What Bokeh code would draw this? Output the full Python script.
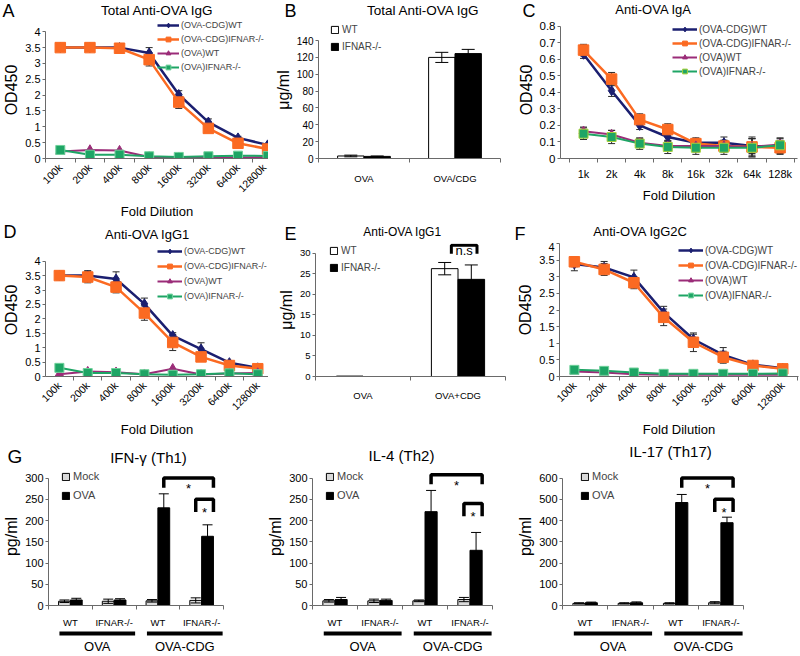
import math
from bokeh.plotting import figure
from bokeh.models import (ColumnDataSource, FixedTicker, Range1d, Legend, LegendItem,
                          Whisker, TeeHead, NumeralTickFormatter)
from bokeh.layouts import row, column
from bokeh.embed import file_html
from bokeh.resources import INLINE
from bokeh.core.properties import value

# ---------------- data ----------------
dil_labels = ["100k", "200k", "400k", "800k", "1600k", "3200k", "6400k", "12800k"]
iga_labels = ["1k", "2k", "4k", "8k", "16k", "32k", "64k", "128k"]
series_names = ["(OVA-CDG)WT", "(OVA-CDG)IFNAR-/-", "(OVA)WT", "(OVA)IFNAR-/-"]

# A: Total anti-OVA IgG (OD450)
igg_cdg_wt = [3.50, 3.50, 3.50, 3.33, 2.02, 1.15, 0.65, 0.43]
igg_cdg_wt_err = [0.04, 0.04, 0.05, 0.17, 0.12, 0.10, 0.05, 0.04]
igg_cdg_ko = [3.50, 3.50, 3.48, 3.12, 1.78, 0.95, 0.48, 0.30]
igg_cdg_ko_err = [0.05, 0.04, 0.05, 0.20, 0.20, 0.08, 0.05, 0.04]
igg_ova_wt = [0.22, 0.27, 0.25, 0.05, 0.04, 0.04, 0.03, 0.05]
igg_ova_ko = [0.27, 0.12, 0.12, 0.07, 0.05, 0.07, 0.09, 0.08]

# C: anti-OVA IgA (OD450)
iga_cdg_wt = [0.63, 0.41, 0.20, 0.13, 0.095, 0.095, 0.075, 0.07]
iga_cdg_wt_err = [0.025, 0.035, 0.025, 0.025, 0.03, 0.035, 0.045, 0.04]
iga_cdg_ko = [0.655, 0.48, 0.235, 0.175, 0.09, 0.075, 0.07, 0.065]
iga_cdg_ko_err = [0.035, 0.04, 0.035, 0.035, 0.03, 0.035, 0.05, 0.04]
iga_ova_wt = [0.165, 0.145, 0.095, 0.075, 0.075, 0.075, 0.07, 0.085]
iga_ova_wt_err = [0.025, 0.025, 0.025, 0.03, 0.035, 0.035, 0.06, 0.035]
iga_ova_ko = [0.15, 0.13, 0.09, 0.07, 0.065, 0.065, 0.065, 0.08]
iga_ova_ko_err = [0.035, 0.04, 0.035, 0.04, 0.04, 0.04, 0.055, 0.045]

# D: anti-OVA IgG1 (OD450)
igg1_cdg_wt = [3.50, 3.50, 3.38, 2.52, 1.42, 0.95, 0.48, 0.30]
igg1_cdg_wt_err = [0.15, 0.17, 0.25, 0.20, 0.10, 0.22, 0.05, 0.05]
igg1_cdg_ko = [3.50, 3.45, 3.10, 2.20, 1.18, 0.68, 0.38, 0.27]
igg1_cdg_ko_err = [0.13, 0.20, 0.20, 0.25, 0.28, 0.08, 0.05, 0.05]
igg1_ova_wt = [0.08, 0.17, 0.15, 0.08, 0.27, 0.07, 0.10, 0.12]
igg1_ova_ko = [0.30, 0.12, 0.12, 0.08, 0.06, 0.08, 0.11, 0.08]

# F: anti-OVA IgG2C (OD450)
igg2c_cdg_wt = [3.38, 3.28, 2.98, 1.93, 1.12, 0.65, 0.35, 0.25]
igg2c_cdg_wt_err = [0.20, 0.18, 0.22, 0.18, 0.15, 0.22, 0.05, 0.05]
igg2c_cdg_ko = [3.45, 3.22, 2.82, 1.78, 1.03, 0.58, 0.33, 0.23]
igg2c_cdg_ko_err = [0.15, 0.18, 0.18, 0.25, 0.28, 0.18, 0.05, 0.05]
igg2c_ova_wt = [0.15, 0.12, 0.07, 0.05, 0.05, 0.05, 0.05, 0.05]
igg2c_ova_ko = [0.20, 0.17, 0.12, 0.08, 0.08, 0.08, 0.08, 0.09]

# B: total anti-OVA IgG (ug/ml)
b_groups = ["OVA", "OVA/CDG"]
b_wt = [3.0, 120.0]
b_wt_err = [1.0, 6.0]
b_ko = [2.5, 124.5]
b_ko_err = [0.5, 5.0]

# E: anti-OVA IgG1 (ug/ml)
e_groups = ["OVA", "OVA+CDG"]
e_wt = [0.1, 26.2]
e_wt_err = [0.0, 1.5]
e_ko = [0.0, 23.6]
e_ko_err = [0.0, 3.5]

# G: cytokines (pg/ml)
g_sub = ["WT", "IFNAR-/-", "WT", "IFNAR-/-"]
g_groups = ["OVA", "OVA-CDG"]
ifng_mock = [10, 10, 11, 12]
ifng_mock_err = [3, 5, 3, 6]
ifng_ova = [13, 13, 230, 163]
ifng_ova_err = [4, 3, 33, 27]
ifng_sig = [300, 250]
il4_mock = [11, 11, 11, 14]
il4_mock_err = [3, 4, 2, 5]
il4_ova = [14, 12, 221, 130]
il4_ova_err = [5, 3, 50, 42]
il4_sig = [308, 240]
il17_mock = [10, 10, 10, 13]
il17_mock_err = [3, 3, 3, 5]
il17_ova = [13, 13, 485, 390]
il17_ova_err = [3, 4, 38, 26]
il17_sig = [600, 500]

panel_letters = ["A", "B", "C", "D", "E", "F", "G"]
panel_titles = ["Total Anti-OVA IgG", "Total Anti-OVA IgG", "Anti-OVA IgA",
                "Anti-OVA IgG1", "Anti-OVA IgG1", "Anti-OVA IgG2C",
                "IFN-\u03b3 (Th1)", "IL-4 (Th2)", "IL-17 (Th17)"]

# ---------------- style ----------------
FONT = "Liberation Sans"
NAVY = "#1b1f70"
ORANGE = "#fb6a22"
PURPLE = "#9b2c78"
GREEN = "#1ea565"
AXC = "#6a6a6a"
ERRC = "#2b2b2b"
MOCK = "#d9d9d9"
TOTAL_W = 800


def base(w, h, xr, yr, bl, br, bt, bb):
    p = figure(width=w, height=h, x_range=xr, y_range=yr, output_backend="svg",
               toolbar_location=None, min_border_left=bl, min_border_right=br,
               min_border_top=bt, min_border_bottom=bb)
    p.grid.visible = False
    p.outline_line_color = None
    for ax in p.axis:
        ax.axis_line_color = AXC
        ax.major_tick_line_color = AXC
        ax.minor_tick_line_color = AXC
        ax.major_tick_in = 0
        ax.major_tick_out = 3
        ax.minor_tick_in = 0
        ax.minor_tick_out = 0
        ax.major_label_text_font = FONT
        ax.major_label_text_color = "black"
        ax.axis_label_text_font = FONT
        ax.axis_label_text_font_style = "normal"
        ax.axis_label_text_color = "black"
        ax.major_label_standoff = 2
        ax.axis_label_standoff = 2
    return p


def header(h, entries):
    """Strip holding panel letters and panel titles; entries: (text, x, y, size, align)."""
    p = figure(width=TOTAL_W, height=h, x_range=Range1d(0, TOTAL_W), y_range=Range1d(h, 0),
               output_backend="svg", toolbar_location=None, min_border=0)
    p.axis.visible = False
    p.grid.visible = False
    p.outline_line_color = None
    for txt, x, y, size, align in entries:
        p.text(x=[x], y=[y], text=[txt], text_font=value(FONT), text_font_size=size,
               text_align=align, text_baseline="middle", text_color="black")
    return p


def cat_xaxis(p, labels, fs, standoff, orient=None):
    n = len(labels)
    ax = p.xaxis[0]
    ax.ticker = FixedTicker(ticks=list(range(n)), minor_ticks=[i - 0.5 for i in range(n + 1)])
    ax.major_label_overrides = {i: lab for i, lab in enumerate(labels)}
    ax.major_tick_out = 0
    ax.minor_tick_out = 4
    ax.major_label_text_font_size = fs
    ax.major_label_standoff = standoff
    if orient is not None:
        ax.major_label_orientation = orient


def val_yaxis(p, top, step, fs, label, label_fs):
    n = int(round(top / step))
    ax = p.yaxis[0]
    ax.ticker = FixedTicker(ticks=[round(i * step, 4) for i in range(n + 1)])
    ax.formatter = NumeralTickFormatter(format="0.[0]")
    ax.major_label_text_font_size = fs
    ax.axis_label = label
    ax.axis_label_text_font_size = label_fs
    ax.bounds = (0, top)


def legend(p, items, loc, fs, gw, gh, spacing, standoff=3):
    leg = Legend(items=items, location=loc, background_fill_alpha=0, border_line_alpha=0,
                 label_text_font=FONT, label_text_font_size=fs, glyph_width=gw,
                 glyph_height=gh, label_height=gh, spacing=spacing, padding=0, margin=0,
                 label_standoff=standoff)
    p.add_layout(leg)


STYLES = [  # color, marker, size, line width
    (NAVY, "diamond", 10, 2.5),
    (ORANGE, "square", 10.5, 2.5),
    (PURPLE, "triangle", 9, 2.0),
    (GREEN, "square", 9, 2.0),
]


def line_panel(w, h, bl, br, bt, bb, xr, ytop, yend, ystep, xlabels, orient, xfs, yfs,
               values, errors, leg_loc, leg_sp, green_edge, leg_fs="10px", leg_gw=25):
    xs = list(range(len(xlabels)))
    p = base(w, h, Range1d(*xr), Range1d(0, yend), bl, br, bt, bb)
    cat_xaxis(p, xlabels, xfs, 3 if orient else 5, orient)
    p.xaxis[0].axis_label = "Fold Dilution"
    p.xaxis[0].axis_label_text_font_size = "13px"
    p.xaxis[0].axis_label_standoff = 3 if orient else 5
    val_yaxis(p, ytop, ystep, yfs, "OD450", "16px")
    items = []
    for name, vals, errs, st in zip(series_names, values, errors, STYLES):
        color, marker, size, lw = st
        src = ColumnDataSource(dict(x=xs, y=vals))
        if errs is not None:
            esrc = ColumnDataSource(dict(x=xs, lo=[v - e for v, e in zip(vals, errs)],
                                         hi=[v + e for v, e in zip(vals, errs)]))
            p.add_layout(Whisker(source=esrc, base="x", upper="hi", lower="lo",
                                 dimension="height", line_color=ERRC, line_width=1,
                                 level="underlay",
                                 upper_head=TeeHead(size=7, line_color=ERRC, line_width=1),
                                 lower_head=TeeHead(size=7, line_color=ERRC, line_width=1)))
        rl = p.line("x", "y", source=src, line_color=color, line_width=lw)
        edge = green_edge if color == GREEN else color
        rs = p.scatter("x", "y", source=src, marker=marker, size=size, fill_color=color,
                       line_color=edge, line_width=1)
        items.append(LegendItem(label=value(name), renderers=[rl, rs]))
    legend(p, items, leg_loc, leg_fs, leg_gw, 12, leg_sp, 2)
    return p


def bar2_panel(w, h, bl, br, bt, bb, groups, wt, wt_err, ko, ko_err, ytop, yend, ystep,
               bw, yfs, xfs, xstand, leg_loc):
    p = base(w, h, Range1d(-0.5, len(groups) - 0.5), Range1d(0, yend), bl, br, bt, bb)
    cat_xaxis(p, groups, xfs, xstand)
    val_yaxis(p, ytop, ystep, yfs, "\u03bcg/ml", "16px")
    xs = list(range(len(groups)))
    x_wt = [x - bw / 2 for x in xs]
    x_ko = [x + bw / 2 for x in xs]
    r_wt = p.vbar(x=x_wt, top=wt, width=bw, fill_color="white", line_color="black", line_width=1)
    r_ko = p.vbar(x=x_ko, top=ko, width=bw, fill_color="black", line_color="black", line_width=1)
    for xx, vv, ee in ((x_wt, wt, wt_err), (x_ko, ko, ko_err)):
        keep = [i for i, e in enumerate(ee) if e > 0]
        esrc = ColumnDataSource(dict(x=[xx[i] for i in keep],
                                     lo=[vv[i] - ee[i] for i in keep],
                                     hi=[vv[i] + ee[i] for i in keep]))
        p.add_layout(Whisker(source=esrc, base="x", upper="hi", lower="lo", dimension="height",
                             line_color="black", line_width=1, level="annotation",
                             upper_head=TeeHead(size=13, line_color="black", line_width=1),
                             lower_head=TeeHead(size=13, line_color="black", line_width=1)))
    items = [LegendItem(label=value("WT"), renderers=[r_wt]),
             LegendItem(label=value("IFNAR-/-"), renderers=[r_ko])]
    legend(p, items, leg_loc, "10px", 9, 9, 6)
    return p, x_wt, x_ko


def g_panel(w, bl, br, mock, mock_err, ova, ova_err, ytop, yend, ystep, sig, leg_loc):
    bw = 0.27
    xr = Range1d(-0.5, len(g_sub) - 0.5)
    p = base(w, 164, xr, Range1d(0, yend), bl, br, 1, 20)
    cat_xaxis(p, g_sub, "9.5px", 7)
    val_yaxis(p, ytop, ystep, "11px", "pg/ml", "16px")
    xs = list(range(len(g_sub)))
    x_m = [x - bw / 2 for x in xs]
    x_o = [x + bw / 2 for x in xs]
    r_m = p.vbar(x=x_m, top=mock, width=bw, fill_color=MOCK, line_color="black", line_width=1)
    r_o = p.vbar(x=x_o, top=ova, width=bw, fill_color="black", line_color="black", line_width=1)
    for xx, vv, ee in ((x_m, mock, mock_err), (x_o, ova, ova_err)):
        esrc = ColumnDataSource(dict(x=xx, lo=[v - e for v, e in zip(vv, ee)],
                                     hi=[v + e for v, e in zip(vv, ee)]))
        p.add_layout(Whisker(source=esrc, base="x", upper="hi", lower="lo", dimension="height",
                             line_color="black", line_width=1, level="annotation",
                             upper_head=TeeHead(size=10, line_color="black", line_width=1),
                             lower_head=TeeHead(size=10, line_color="black", line_width=1)))
    # significance brackets: WT-OVA vs IFNAR-OVA (big), IFNAR mock vs OVA (small)
    big_top, small_top = sig
    bx0, bx1 = x_o[2], x_o[3] + bw / 2
    sx0, sx1 = x_m[3], x_o[3] + bw / 2
    bd, sd = 0.075 * ytop, 0.1 * ytop
    p.multi_line(xs=[[bx0, bx0, bx1, bx1], [sx0, sx0, sx1, sx1]],
                 ys=[[big_top - bd, big_top, big_top, big_top - bd],
                     [small_top - sd, small_top, small_top, small_top - sd]],
                 line_color="black", line_width=3.5)
    p.text(x=[(bx0 + bx1) / 2, (sx0 + sx1) / 2],
           y=[big_top - 0.085 * ytop, small_top - 0.1 * ytop], text=["*", "*"],
           text_font=value(FONT), text_font_size="13px", text_align="center",
           text_baseline="middle", text_color="#000000")
    items = [LegendItem(label=value("Mock"), renderers=[r_m]),
             LegendItem(label=value("OVA"), renderers=[r_o])]
    legend(p, items, leg_loc, "11px", 9, 9, 7)

    # group bars and group labels underneath
    s = figure(width=w, height=26, x_range=xr, y_range=Range1d(0, 1), output_backend="svg",
               toolbar_location=None, min_border_left=bl, min_border_right=br,
               min_border_top=0, min_border_bottom=18)
    s.grid.visible = False
    s.outline_line_color = None
    s.yaxis.visible = False
    gx0, gx1, gc = [], [], []
    for g in range(len(g_groups)):
        a, b = 2 * g - 0.25, 2 * g + 1 + 0.48
        gx0.append(a)
        gx1.append(b)
        gc.append(round((a + b) / 2, 3))
    s.segment(x0=gx0, y0=[0.5] * len(gx0), x1=gx1, y1=[0.5] * len(gx0),
              line_color="black", line_width=4)
    ax = s.xaxis[0]
    ax.ticker = FixedTicker(ticks=gc)
    ax.major_label_overrides = {c: lab for c, lab in zip(gc, g_groups)}
    ax.axis_line_color = None
    ax.major_tick_line_color = None
    ax.minor_tick_line_color = None
    ax.major_tick_out = 0
    ax.minor_tick_out = 0
    ax.major_label_text_font = FONT
    ax.major_label_text_font_size = "13px"
    ax.major_label_text_color = "black"
    ax.major_label_standoff = 2
    return column(p, s)


# ---------------- headers (panel letters + titles) ----------------
L = "18px"
hdr1 = header(20, [
    (panel_letters[0], 2, 10, L, "left"),
    (panel_titles[0], 157, 10, "13.5px", "center"),
    (panel_letters[1], 284, 10, L, "left"),
    (panel_titles[1], 423, 10, "13.5px", "center"),
    (panel_letters[2], 522, 10, L, "left"),
    (panel_titles[2], 653, 9, "13px", "center"),
])
hdr2 = header(20, [
    (panel_letters[3], 3, 9, L, "left"),
    (panel_titles[3], 147, 12, "13px", "center"),
    (panel_letters[4], 284, 11, L, "left"),
    (panel_titles[4], 402, 9, "12px", "center"),
    (panel_letters[5], 514, 11, L, "left"),
    (panel_titles[5], 640, 9, "13px", "center"),
])
hdr3 = header(26, [
    (panel_letters[6], 7, 16, "19px", "left"),
    (panel_titles[6], 148, 17, "15px", "center"),
    (panel_titles[7], 401, 15, "15px", "center"),
    (panel_titles[8], 670, 11, "15px", "center"),
])

# ---------------- panels ----------------
pA = line_panel(268, 202, 42, 0, 1, 54, (-0.5, 7.03), 4, 4.324, 0.5, dil_labels, math.pi / 4,
                "10.5px", "11px",
                [igg_cdg_wt, igg_cdg_ko, igg_ova_wt, igg_ova_ko],
                [igg_cdg_wt_err, igg_cdg_ko_err, None, None],
                (112, 85), 2, "#6fd19a", "9px", 22)

pB, _, _ = bar2_panel(246, 202, 50, 14, 1, 50, b_groups, b_wt, b_wt_err, b_ko, b_ko_err,
                      140, 162.6, 20, 0.29, "10px", "9.5px", 10, (12, 106))

pC = line_panel(286, 202, 46, 3, 1, 54, (-0.82, 7.62), 0.8, 0.828, 0.1, iga_labels, None,
                "11px", "11.5px",
                [iga_cdg_wt, iga_cdg_ko, iga_ova_wt, iga_ova_ko],
                [iga_cdg_wt_err, iga_cdg_ko_err, iga_ova_wt_err, iga_ova_ko_err],
                (112, 81), 2, "#a9d13b")

pD = line_panel(268, 198, 43, 0, 1, 54, (-0.49, 7.38), 4, 4.613, 0.5, dil_labels, math.pi / 4,
                "10.5px", "11px",
                [igg1_cdg_wt, igg1_cdg_ko, igg1_ova_wt, igg1_ova_ko],
                [igg1_cdg_wt_err, igg1_cdg_ko_err, None, None],
                (112, 74), 3, "#6fd19a", "9px")

pE, e_xwt, e_xko = bar2_panel(246, 198, 47, 9, 1, 57, e_groups, e_wt, e_wt_err, e_ko, e_ko_err,
                              30, 32.31, 5, 0.28, "9.5px", "9.5px", 9, (14, 103))
# n.s. bracket over the OVA+CDG pair (above the axis top)
ns_x0 = e_xwt[1] + 0.07
ns_x1 = e_xko[1] + 0.06
pE.multi_line(xs=[[ns_x0, ns_x0, ns_x1, ns_x1]], ys=[[29.8, 31.9, 31.9, 29.8]],
              line_color="black", line_width=3)
pE.text(x=[(ns_x0 + ns_x1) / 2], y=[30.7], text=["n.s"], text_font=value(FONT),
        text_font_size="13px", text_align="center", text_baseline="middle", text_color="black")

pF = line_panel(286, 198, 44, 2, 1, 61, (-0.5, 7.53), 4, 4.0, 0.5, dil_labels, math.pi / 4,
                "10.5px", "11px",
                [igg2c_cdg_wt, igg2c_cdg_ko, igg2c_ova_wt, igg2c_ova_ko],
                [igg2c_cdg_wt_err, igg2c_cdg_ko_err, None, None],
                (119, 75), 3, "#6fd19a")

pG1 = g_panel(262, 47, 39, ifng_mock, ifng_mock_err, ifng_ova, ifng_ova_err,
              300, 325, 50, ifng_sig, (13, 104))
pG2 = g_panel(252, 50, 22, il4_mock, il4_mock_err, il4_ova, il4_ova_err,
              300, 325, 50, il4_sig, (13, 104))
pG3 = g_panel(286, 48, 57, il17_mock, il17_mock_err, il17_ova, il17_ova_err,
              600, 650, 100, il17_sig, (18, 104))

layout = column(hdr1, row(pA, pB, pC), hdr2, row(pD, pE, pF), hdr3, row(pG1, pG2, pG3))

open("out.html", "w").write(file_html(layout, INLINE))
